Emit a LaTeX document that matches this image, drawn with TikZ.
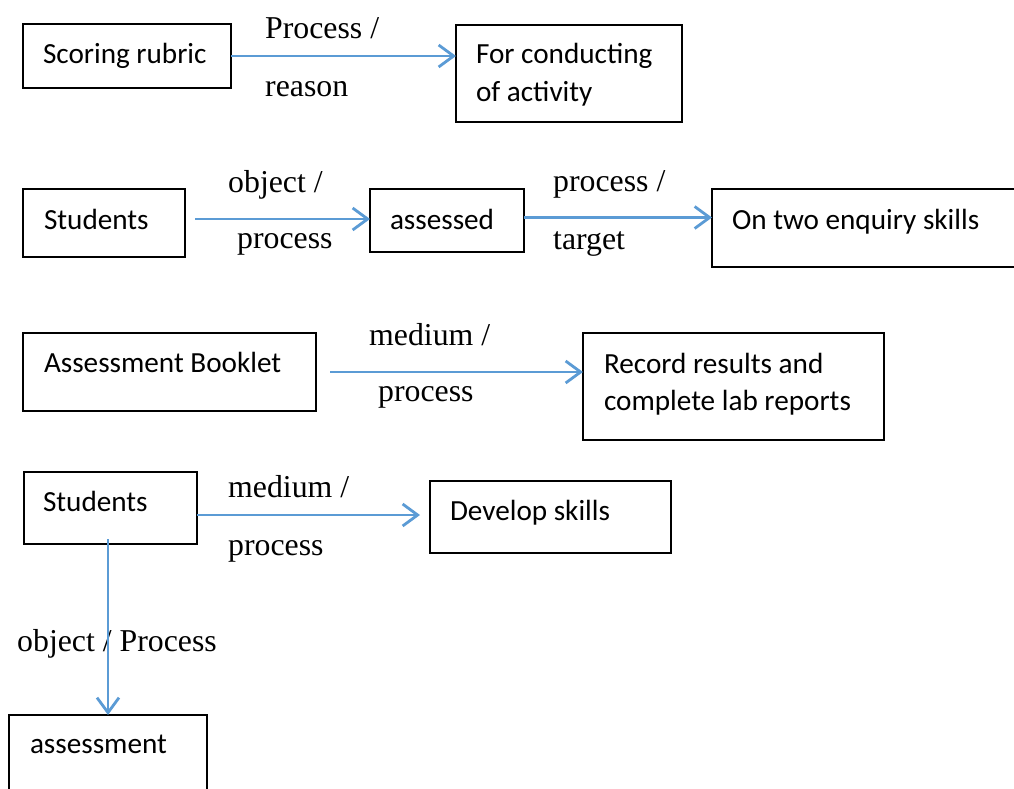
\documentclass[tikz,border=0pt]{standalone}
\usepackage{fontspec}
\setmainfont{Liberation Serif}
\newfontfamily\calibri{Carlito}
\usetikzlibrary{arrows.meta,calc}
\definecolor{arrowblue}{RGB}{91,155,213}
\begin{document}
\begin{tikzpicture}[x=1pt,y=-1pt,
  box/.style={draw=black, line width=1.7pt, inner ysep=0pt, outer sep=0pt, anchor=north west,
    font=\calibri\fontsize{29.2pt}{37.5pt}\selectfont},
  lbl/.style={anchor=base west, inner sep=0pt, font=\fontsize{31.8pt}{38pt}\selectfont},
  conn/.style={draw=arrowblue, line width=2.8pt, -{Straight Barb[length=15pt,width=22pt]}}]
\useasboundingbox (0,0) rectangle (1014,789);
\clip (0,0) rectangle (1014,789);
\fill[white] (0,0) rectangle (1014,789);
% boxes
\node[box, inner xsep=20pt, text height=40pt, text depth=24pt] (b1) at (23,24) {\parbox[t]{168pt}{Scoring rubric}};
\node[box, inner xsep=20pt, text height=39pt, text depth=58pt] (b2) at (456,25) {\parbox[t]{186pt}{For conducting\\of activity}};
\node[box, inner xsep=21pt, text height=40pt, text depth=28pt] (b3) at (23,189) {\parbox[t]{120pt}{Students}};
\node[box, inner xsep=20pt, text height=40pt, text depth=23pt] (b4) at (370,189) {\parbox[t]{114pt}{assessed}};
\node[box, inner xsep=20pt, text height=40pt, text depth=38pt] (b5) at (712,189) {\parbox[t]{278pt}{On two enquiry skills}};
\node[box, inner xsep=21pt, text height=39pt, text depth=39pt] (b6) at (23,333) {\parbox[t]{251pt}{Assessment Booklet}};
\node[box, inner xsep=21pt, text height=40pt, text depth=67pt] (b7) at (583,333) {\parbox[t]{259pt}{Record results and\\complete lab reports}};
\node[box, inner xsep=19pt, text height=39pt, text depth=33pt] (b8) at (24,472) {\parbox[t]{135pt}{Students}};
\node[box, inner xsep=20pt, text height=39pt, text depth=33pt] (b9) at (430,481) {\parbox[t]{201pt}{Develop skills}};
\node[box, inner xsep=21pt, text height=38pt, text depth=47pt] (b10) at (9,715) {\parbox[t]{156pt}{assessment}};
% labels
\node[lbl] (l1a) at (265,39) {Process /};
\node[lbl] (l1b) at (265,97) {reason};
\node[lbl] (l2a) at (228,192) {object /};
\node[lbl] (l2b) at (237,248) {process};
\node[lbl] (l3a) at (553,191) {process /};
\node[lbl] (l3b) at (553,249) {target};
\node[lbl] (l4a) at (369,345) {medium /};
\node[lbl] (l4b) at (378,401) {process};
\node[lbl] (l5a) at (228,497) {medium /};
\node[lbl] (l5b) at (228,555) {process};
\node[lbl] (l6) at (17,651) {object / Process};
% connectors
\draw[conn] (b1.east) -- (b1.east -| b2.west);
\draw[conn] ([xshift=10pt,yshift=4pt]b3.east) -- ([yshift=4pt]b3.east -| b4.west);
\draw[conn] ([yshift=3pt]b4.east) -- ([yshift=3pt]b4.east -| b5.west);
\draw[conn] ([xshift=14pt]b6.east) -- (b6.east -| b7.west);
\draw[conn, shorten >=10pt] ([yshift=-7pt]b8.east) -- ([yshift=-7pt]b8.east -| b9.west);
\draw[conn] ($(b10.north |- b8.south)+(0,-5)$) -- (b10.north);
\end{tikzpicture}
\end{document}
